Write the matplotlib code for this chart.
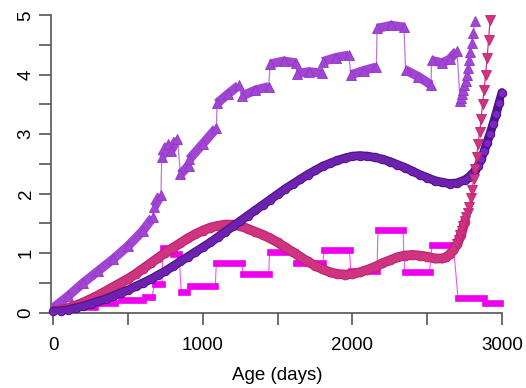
import numpy as np
import matplotlib
matplotlib.use("Agg")
import matplotlib.pyplot as plt

# ---------------- data ----------------
# dark purple smooth curve (circles)
dark_age = [0, 50, 100, 150, 200, 250, 300, 350, 400, 450, 500, 550, 600, 650, 700, 750,
            800, 850, 900, 950, 1000, 1050, 1100, 1150, 1200, 1250, 1300, 1350, 1400, 1450,
            1500, 1550, 1600, 1650, 1700, 1750, 1800, 1850, 1900, 1950, 2000, 2050, 2100,
            2150, 2200, 2250, 2300, 2350, 2400, 2450, 2500, 2550, 2600, 2650, 2700, 2750,
            2780, 2800, 2820, 2840, 2860, 2880, 2900, 2920, 2940, 2960, 2980, 3000]
dark_val = [0.02, 0.03, 0.05, 0.08, 0.11, 0.15, 0.19, 0.23, 0.28, 0.33, 0.38, 0.44, 0.50,
            0.56, 0.63, 0.70, 0.78, 0.86, 0.94, 1.02, 1.10, 1.18, 1.27, 1.36, 1.45, 1.54,
            1.63, 1.72, 1.81, 1.90, 1.99, 2.08, 2.16, 2.24, 2.32, 2.39, 2.46, 2.51, 2.56,
            2.60, 2.63, 2.64, 2.63, 2.61, 2.58, 2.54, 2.49, 2.44, 2.38, 2.32, 2.27, 2.22,
            2.19, 2.17, 2.18, 2.23, 2.28, 2.33, 2.39, 2.47, 2.58, 2.71, 2.86, 3.01, 3.17,
            3.34, 3.52, 3.70]

# pink smooth curve (circles)
pink_age = [0, 50, 100, 150, 200, 250, 300, 350, 400, 450, 500, 550, 600, 650, 700, 750,
            800, 850, 900, 950, 1000, 1050, 1100, 1150, 1200, 1250, 1300, 1350, 1400, 1450,
            1500, 1550, 1600, 1650, 1700, 1750, 1800, 1850, 1900, 1950, 2000, 2050, 2100,
            2150, 2200, 2250, 2300, 2350, 2400, 2450, 2500, 2550, 2600, 2625, 2650, 2675,
            2700, 2725, 2750]
pink_val = [0.02, 0.05, 0.08, 0.12, 0.17, 0.23, 0.29, 0.36, 0.43, 0.50, 0.57, 0.65, 0.74,
            0.83, 0.92, 1.01, 1.09, 1.17, 1.25, 1.32, 1.38, 1.43, 1.46, 1.48, 1.48, 1.46,
            1.41, 1.36, 1.31, 1.25, 1.18, 1.10, 1.02, 0.94, 0.86, 0.79, 0.73, 0.68, 0.65,
            0.64, 0.65, 0.68, 0.72, 0.77, 0.83, 0.88, 0.93, 0.96, 0.97, 0.96, 0.94, 0.91,
            0.91, 0.93, 0.98, 1.05, 1.15, 1.30, 1.52]

# pink steep tail (down triangles)
pinktri_age = [2700, 2710, 2720, 2730, 2740, 2750, 2760, 2770, 2780, 2790, 2800, 2810,
               2820, 2830, 2840, 2850, 2860, 2870, 2880, 2890, 2900, 2910, 2920]
pinktri_val = [1.15, 1.22, 1.30, 1.38, 1.46, 1.54, 1.60, 1.68, 1.78, 1.92, 2.07, 2.24,
               2.42, 2.62, 2.83, 3.03, 3.25, 3.50, 3.75, 4.00, 4.28, 4.58, 4.92]

# purple triangles: piecewise segments (segment id per point)
tri_age = [0, 100, 200, 300, 400, 500, 600, 665,
           675, 720,
           725, 770,
           785, 830,
           850, 905,
           910, 1000, 1090,
           1095, 1170, 1240,
           1260, 1350, 1440,
           1450, 1540, 1620,
           1630, 1710, 1795,
           1800, 1890, 1975,
           1990, 2075, 2160,
           2165, 2260, 2345,
           2355, 2440, 2525,
           2530, 2600, 2650, 2700]
tri_val = [0.08, 0.28, 0.50, 0.70, 0.90, 1.12, 1.38, 1.60,
           1.78, 1.98,
           2.62, 2.83,
           2.72, 2.92,
           2.33, 2.47,
           2.58, 2.84, 3.10,
           3.52, 3.68, 3.82,
           3.64, 3.74, 3.80,
           4.18, 4.23, 4.20,
           4.02, 4.05, 4.03,
           4.22, 4.29, 4.33,
           4.00, 4.07, 4.13,
           4.78, 4.83, 4.80,
           4.08, 3.97, 3.83,
           4.24, 4.20, 4.26, 4.40]
tri_seg = [1, 1, 1, 1, 1, 1, 1, 1,
           2, 2,
           3, 3,
           4, 4,
           5, 5,
           6, 6, 6,
           7, 7, 7,
           8, 8, 8,
           9, 9, 9,
           10, 10, 10,
           11, 11, 11,
           12, 12, 12,
           13, 13, 13,
           14, 14, 14,
           15, 15, 15, 15]

# purple triangles: steep tail
tririse_age = [2719, 2726, 2735, 2741, 2748, 2757, 2763, 2770, 2779, 2786, 2797, 2808, 2819]
tririse_val = [3.56, 3.61, 3.68, 3.75, 3.82, 3.90, 4.00, 4.11, 4.24, 4.38, 4.54, 4.71, 4.91]

# magenta squares: step function
sq_start = [0, 140, 310, 450, 610, 677, 733, 800, 856, 911, 1090, 1268, 1446, 1625,
            1810, 1988, 2171, 2349, 2532, 2706, 2888]
sq_end = [120, 280, 415, 600, 660, 727, 793, 840, 894, 1083, 1261, 1440, 1618, 1803,
          1981, 2164, 2338, 2516, 2675, 2877, 2989]
sq_val = [0.06, 0.10, 0.16, 0.22, 0.27, 0.48, 1.09, 0.99, 0.35, 0.44, 0.84, 0.65, 1.02,
          0.84, 1.05, 0.70, 1.39, 0.69, 1.13, 0.24, 0.16]

x_ticks_major = [0, 1000, 2000, 3000]
x_ticks_minor = [500, 1500, 2500]
y_ticks_major = [0, 1, 2, 3, 4, 5]
y_ticks_minor = [0.5, 1.5, 2.5, 3.5, 4.5]
x_label = "Age (days)"

# ---------------- style ----------------
C_TRI = "#A046D2"
C_TRI_EDGE = "#9234C8"
C_TRI_LINE = "#B878E4"
C_MAG = "#EE00EE"
C_MAG_LINE = "#F055F0"
C_PINK = "#CF3480"
C_PINK_EDGE = "#C02272"
C_DARK = "#6C22AE"
C_DARK_EDGE = "#4E1488"
C_AXIS = "#555555"

plt.rcParams["font.family"] = ["Liberation Sans", "DejaVu Sans"]

fig = plt.figure(figsize=(5.26, 3.88), dpi=100)
ax = fig.add_axes([0.0979, 0.1943, 0.8599, 0.7663])

# magenta steps
mx, my = [], []
for s, e, v in zip(sq_start, sq_end, sq_val):
    mx += [s, e]
    my += [v, v]
ax.plot(mx, my, color=C_MAG_LINE, lw=0.8, zorder=2)
for s, e, v in zip(sq_start, sq_end, sq_val):
    ax.plot([s, e], [v, v], color=C_MAG, lw=4.8, solid_capstyle="projecting", zorder=2.1)

# purple triangles
ta = np.array(tri_age, float)
tv = np.array(tri_val, float)
ts = np.array(tri_seg)
ax.plot(list(ta) + tririse_age, list(tv) + tririse_val, color=C_TRI_LINE, lw=0.9, zorder=3)
for sid in np.unique(ts):
    m = ts == sid
    ax.plot(ta[m], tv[m], color=C_TRI, lw=6.6, solid_capstyle="butt", zorder=3.1)
ax.plot(ta, tv, ls="none", marker="^", ms=7.0, mfc=C_TRI, mec=C_TRI_EDGE, mew=0.6, zorder=3.2)
ax.plot(tririse_age, tririse_val, ls="none", marker="^", ms=7.0, mfc=C_TRI, mec=C_TRI_EDGE,
        mew=0.6, zorder=3.2, clip_on=False)

# pink circles
ax.plot(pink_age, pink_val, color=C_PINK_EDGE, lw=7.0, solid_capstyle="round", zorder=4)
ax.plot(pink_age, pink_val, ls="none", marker="o", ms=6.4, mfc=C_PINK, mec=C_PINK_EDGE,
        mew=0.6, zorder=4.1)
ax.plot(pink_age, pink_val, color=C_PINK, lw=5.2, solid_capstyle="round", zorder=4.2)

# dark purple circles
ax.plot(dark_age, dark_val, color=C_DARK_EDGE, lw=6.4, solid_capstyle="round", zorder=5)
ax.plot(dark_age, dark_val, ls="none", marker="o", ms=6.0, mfc="#7C26C8", mec=C_DARK_EDGE,
        mew=0.8, zorder=5.1, clip_on=False)
ax.plot(dark_age[:56], dark_val[:56], color=C_DARK, lw=4.6, solid_capstyle="round", zorder=5.2)

# pink down triangles
ax.plot(pinktri_age, pinktri_val, color=C_PINK, lw=0.9, zorder=6, clip_on=False)
ax.plot(pinktri_age, pinktri_val, ls="none", marker="v", ms=7.0, mfc=C_PINK, mec=C_PINK_EDGE,
        mew=0.6, zorder=6.1, clip_on=False)

# ---------------- axes ----------------
ax.set_xlim(-12, 3012)
ax.set_ylim(0, 5)
for sp in ["top", "right"]:
    ax.spines[sp].set_visible(False)
ax.spines["left"].set_bounds(0, 5)
ax.spines["bottom"].set_bounds(-12, 3000)
for sp in ["left", "bottom"]:
    ax.spines[sp].set_color(C_AXIS)
    ax.spines[sp].set_linewidth(1.2)

ax.set_xticks(x_ticks_major)
ax.set_xticks(x_ticks_minor, minor=True)
ax.set_yticks(y_ticks_major)
ax.set_yticks(y_ticks_minor, minor=True)
ax.tick_params(which="both", direction="out", length=8.6, width=1.2, color=C_AXIS,
               labelsize=13.5, labelcolor="black")
ax.tick_params(axis="x", which="both", pad=9)
ax.tick_params(axis="y", which="both", pad=3.5)
for lab in ax.get_yticklabels():
    lab.set_rotation(90)
    lab.set_va("center")
    lab.set_ha("right")
ax.set_xlabel(x_label, fontsize=13.5, labelpad=9)

fig.savefig("out.png", dpi=100)
